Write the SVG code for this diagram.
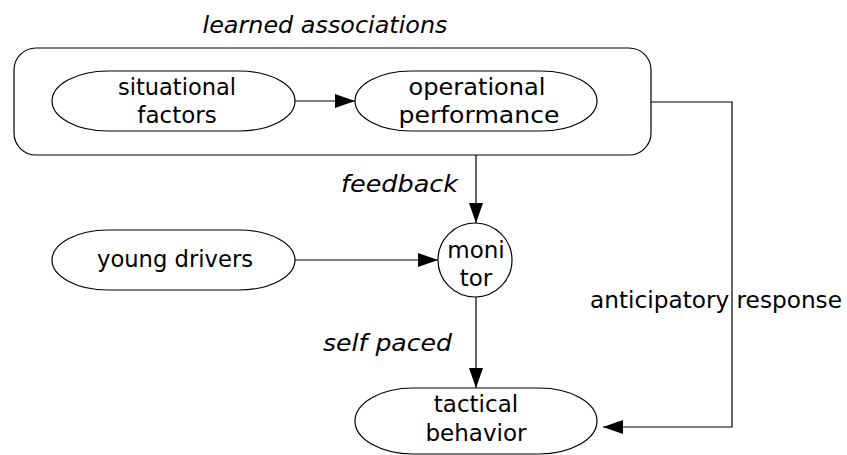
<svg xmlns="http://www.w3.org/2000/svg" width="847" height="455" viewBox="0 0 847 455">
  <defs>
    <marker id="arrow" viewBox="0 0 20 14" refX="20" refY="7" markerWidth="20" markerHeight="14" markerUnits="userSpaceOnUse" orient="auto">
      <path d="M0,0 L20,7 L0,14 Z" fill="#000"/>
    </marker>
  </defs>
  <style>
    .shape { fill: #fff; stroke: #000; stroke-width: 1.2; }
    .edge { fill: none; stroke: #000; stroke-width: 1.2; }
    text { font-family: "DejaVu Sans", "Liberation Sans", sans-serif; font-size: 23px; fill: #000; }
    .lbl { text-anchor: middle; }
    .it { font-style: italic; }
  </style>

  <!-- group frame -->
  <g id="learned-associations">
    <rect class="shape" x="14" y="48" width="637" height="107" rx="22" ry="22"/>
    <text class="it lbl" x="325" y="33" textLength="245" lengthAdjust="spacingAndGlyphs">learned associations</text>
  </g>

  <g id="situational-factors">
    <rect class="shape" x="52" y="71" width="243" height="60" rx="56" ry="30"/>
    <text class="lbl" x="177" y="95" textLength="118" lengthAdjust="spacingAndGlyphs">situational</text>
    <text class="lbl" x="177" y="123">factors</text>
  </g>

  <g id="operational-performance">
    <rect class="shape" x="355" y="71" width="242" height="60" rx="56" ry="30"/>
    <text class="lbl" x="477" y="95" textLength="137" lengthAdjust="spacingAndGlyphs">operational</text>
    <text class="lbl" x="479" y="123" textLength="161" lengthAdjust="spacingAndGlyphs">performance</text>
  </g>

  <g id="young-drivers">
    <rect class="shape" x="52" y="230" width="243" height="60" rx="56" ry="30"/>
    <text class="lbl" x="175" y="267" textLength="156" lengthAdjust="spacingAndGlyphs">young drivers</text>
  </g>

  <g id="monitor">
    <circle class="shape" cx="475" cy="260" r="37"/>
    <text class="lbl" x="476" y="258">moni</text>
    <text class="lbl" x="476" y="286">tor</text>
  </g>

  <g id="tactical-behavior">
    <rect class="shape" x="355" y="388" width="242" height="66" rx="58" ry="33"/>
    <text class="lbl" x="476" y="412">tactical</text>
    <text class="lbl" x="476" y="441">behavior</text>
  </g>

  <g id="connectors">
    <line class="edge" x1="295" y1="101" x2="355" y2="101" marker-end="url(#arrow)"/>
    <line class="edge" x1="476" y1="155" x2="476" y2="223" marker-end="url(#arrow)"/>
    <line class="edge" x1="295" y1="260" x2="438" y2="260" marker-end="url(#arrow)"/>
    <line class="edge" x1="476" y1="297" x2="476" y2="388" marker-end="url(#arrow)"/>
    <polyline class="edge" points="651,102 732,102 732,427 603,427" marker-end="url(#arrow)"/>
    <text class="it" x="458" y="192" text-anchor="end" textLength="117" lengthAdjust="spacingAndGlyphs">feedback</text>
    <text class="it" x="452" y="351" text-anchor="end" textLength="129" lengthAdjust="spacingAndGlyphs">self paced</text>
    <text x="590" y="308" textLength="252" lengthAdjust="spacingAndGlyphs">anticipatory response</text>
  </g>
</svg>
